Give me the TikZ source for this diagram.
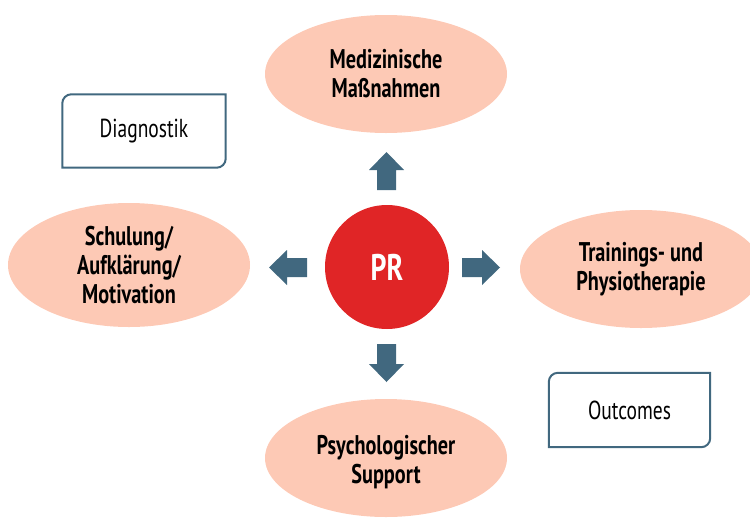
\documentclass[tikz,border=0pt]{standalone}
\usepackage{fontspec}
\setmainfont{PT Sans}[FakeStretch=0.75]
\usetikzlibrary{shapes.geometric}
\definecolor{salmon}{HTML}{FDC9B5}
\definecolor{prred}{HTML}{E02526}
\definecolor{steel}{HTML}{41687F}
\tikzset{
  topic/.style={ellipse, fill=salmon, minimum width=242pt, minimum height=118pt,
    font=\fontsize{27}{29}\selectfont\bfseries, align=center, inner sep=0pt},
  hub/.style={circle, fill=prred, minimum size=124pt, inner sep=0pt,
    font=\fontsize{37}{40}\selectfont\bfseries, text=white},
  note/.style={font=\fontsize{26}{29}\selectfont, inner sep=0pt},
  frame/.style={draw=steel, line width=2pt},
  blockarrow/.style={fill=steel}
}
\begin{document}
\begin{tikzpicture}[x=1pt,y=-1pt]
  \useasboundingbox (0,0) rectangle (750,517);
  \clip (0,0) rectangle (750,517);

  % hub and the four topics
  \node[hub] (pr) at (387,267) {PR};
  \node[topic] (med) at (386,74) {Medizinische\\Maßnahmen};
  \node[topic, minimum height=124pt] (edu) at (129,265) {Schulung/\\Aufklärung/\\Motivation};
  \node[topic] (train) at (641,269) {Trainings- und\\Physiotherapie};
  \node[topic] (psy) at (386,458) {};
  \node[font=\fontsize{27}{29}\selectfont\bfseries, align=center] (psytext) at (386,462) {Psychologischer\\Support};

  % block arrows pointing from the hub to each topic
  \coordinate (aup) at (386.5,190);
  \coordinate (adown) at (386.5,344);
  \coordinate (aleft) at (307,267.5);
  \coordinate (aright) at (462,267.5);
  \fill[blockarrow, shift={(aup)}]
    (-9.5,0) -- (-9.5,-20) -- (-17.5,-20) -- (0,-38) -- (17.5,-20) -- (9.5,-20) -- (9.5,0) -- cycle;
  \fill[blockarrow, shift={(adown)}]
    (-9.5,0) -- (-9.5,20) -- (-17.5,20) -- (0,38) -- (17.5,20) -- (9.5,20) -- (9.5,0) -- cycle;
  \fill[blockarrow, shift={(aleft)}]
    (0,-9.5) -- (-20,-9.5) -- (-20,-17.5) -- (-38,0) -- (-20,17.5) -- (-20,9.5) -- (0,9.5) -- cycle;
  \fill[blockarrow, shift={(aright)}]
    (0,-9.5) -- (20,-9.5) -- (20,-17.5) -- (38,0) -- (20,17.5) -- (20,9.5) -- (0,9.5) -- cycle;

  % side notes: frames with rounded top-left and bottom-right corners
  \node[note, minimum width=163pt, minimum height=73pt] (diag) at (144,131) {Diagnostik};
  \draw[frame] (diag.south west) [rounded corners=9pt] -- (diag.north west)
    [sharp corners] -- (diag.north east) [rounded corners=9pt] -- (diag.south east)
    [sharp corners] -- cycle;
  \node[note, minimum width=161pt, minimum height=74pt] (out) at (629.5,410) {Outcomes};
  \draw[frame] (out.south west) [rounded corners=9pt] -- (out.north west)
    [sharp corners] -- (out.north east) [rounded corners=9pt] -- (out.south east)
    [sharp corners] -- cycle;
\end{tikzpicture}
\end{document}
